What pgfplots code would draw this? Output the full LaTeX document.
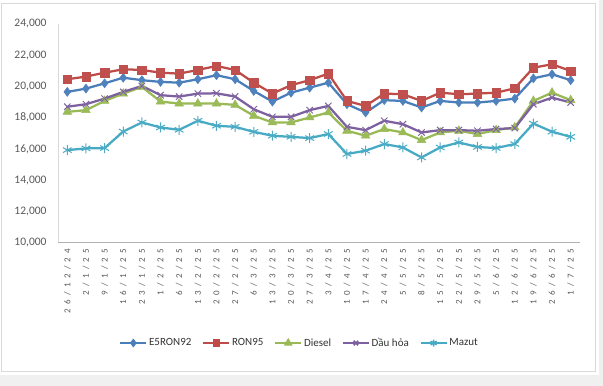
\documentclass[border=0pt]{standalone}
\usepackage{fontspec}
\setmainfont{Carlito}
\newfontfamily\tickfont[LetterSpace=48]{Carlito}
\usepackage{pgfplots}
\usepackage{pgfplotstable}
\pgfplotsset{compat=1.18}
\definecolor{cE}{HTML}{4A7EBB}\definecolor{mE}{HTML}{4F81BD}
\definecolor{cR}{HTML}{BE4B48}\definecolor{mR}{HTML}{C0504D}
\definecolor{cD}{HTML}{98B954}\definecolor{mD}{HTML}{9BBB59}
\definecolor{cH}{HTML}{7D60A0}\definecolor{mH}{HTML}{8064A2}
\definecolor{cM}{HTML}{46AAC5}\definecolor{mM}{HTML}{4BACC6}
\definecolor{tgray}{HTML}{595959}
\definecolor{fgray}{HTML}{D9D9D9}
\definecolor{bggray}{HTML}{F0F0F0}

\pgfplotstableread{
i E5 R95 Dsl Dau Maz
0 19650 20460 18370 18700 15920
1 19860 20630 18480 18860 16030
2 20200 20880 19070 19220 16050
3 20560 21100 19540 19650 17110
4 20400 21055 19970 20030 17690
5 20290 20880 19030 19440 17370
6 20240 20820 18900 19350 17220
7 20460 21055 18900 19540 17800
8 20720 21310 18900 19560 17480
9 20460 21055 18820 19350 17410
10 19710 20240 18120 18540 17090
11 19030 19540 17690 18050 16840
12 19600 20080 17690 18050 16770
13 19920 20400 18010 18480 16690
14 20240 20820 18330 18750 16950
15 18860 19070 17160 17410 15670
16 18330 18750 16840 17200 15880
17 19120 19540 17270 17800 16310
18 19070 19500 17050 17580 16090
19 18650 19070 16560 17050 15450
20 19070 19600 17050 17200 16090
21 18970 19500 17160 17200 16410
22 18970 19540 16950 17160 16120
23 19070 19600 17200 17270 16050
24 19220 19880 17370 17330 16310
25 20520 21200 19070 18860 17620
26 20780 21420 19600 19280 17100
27 20400 20990 19120 18970 16770
}\datatable

\begin{document}
\begin{tikzpicture}
\useasboundingbox (0bp,0bp) rectangle (603bp,386bp);
\fill[bggray] (0bp,0bp) rectangle (603bp,386bp);
\fill[white] (0bp,11bp) rectangle (599bp,386bp);
\draw[fgray, line width=0.8bp] (1.5bp,15bp) rectangle (595.5bp,383bp);
\begin{axis}[
  at={(58bp,143.5bp)}, anchor=south west,
  scale only axis, width=522bp, height=218.5bp,
  xmin=-0.5, xmax=27.5, ymin=10000, ymax=24000,
  ytick={10000,12000,...,24000},
  xtick={0,...,27},
  xticklabels={26/12/24,2/1/25,9/1/25,16/1/25,23/1/25,1/2/25,6/2/25,13/2/25,20/2/25,27/2/25,6/3/25,13/3/25,20/3/25,27/3/25,3/4/25,10/4/25,17/4/25,24/4/25,5/5/25,8/5/25,15/5/25,22/5/25,29/5/25,5/6/25,12/6/25,19/6/25,26/6/25,1/7/25},
  axis x line*=bottom, axis y line*=left,
  x axis line style={draw=black!30, line width=0.8bp},
  y axis line style={draw=fgray, line width=0.8bp},
  major tick length=0pt,
  /pgf/number format/assume math mode=true,
  /pgf/number format/.cd, fixed, 1000 sep={,}, /pgfplots/.cd,
  scaled y ticks=false,
  yticklabel style={font=\fontsize{11.5bp}{13bp}\selectfont, text=tgray, xshift=-8bp},
  xticklabel style={font=\tickfont\fontsize{9bp}{10bp}\selectfont, text=tgray, rotate=90, anchor=east, inner xsep=6bp},
  every axis plot/.append style={line width=2.25bp},
  legend columns=5,
  legend style={draw=none, fill=none, at={(0.463,-0.46)}, anchor=center,
    font=\fontsize{11bp}{13bp}\selectfont, text=black!80,
    /tikz/every even column/.append style={column sep=9bp},
    inner sep=0pt},
  legend image code/.code={\draw[mark repeat=2, mark phase=2, line width=1.6bp, mark options={scale=0.7}] plot coordinates {(0bp,0bp)(13bp,0bp)(26bp,0bp)};},
]
\addplot[cE, mark=diamond*, mark size=4.5bp, mark options={fill=mE, draw=mE, line width=0.5bp}] table[x=i,y=E5] {\datatable};
\addlegendentry{E5RON92}
\addplot[cR, mark=square*, mark size=4.2bp, mark options={fill=mR, draw=mR, line width=0.5bp}] table[x=i,y=R95] {\datatable};
\addlegendentry{RON95}
\addplot[cD, mark=triangle*, mark size=5bp, mark options={fill=mD, draw=mD, line width=0.5bp}] table[x=i,y=Dsl] {\datatable};
\addlegendentry{Diesel}
\addplot[cH, mark=x, mark size=4.5bp, mark options={draw=mH, line width=1bp}] table[x=i,y=Dau] {\datatable};
\addlegendentry{Dầu hỏa}
\addplot[cM, mark=asterisk, mark size=5bp, mark options={draw=mM, line width=1bp}] table[x=i,y=Maz] {\datatable};
\addlegendentry{Mazut}
\end{axis}
\end{tikzpicture}
\end{document}
